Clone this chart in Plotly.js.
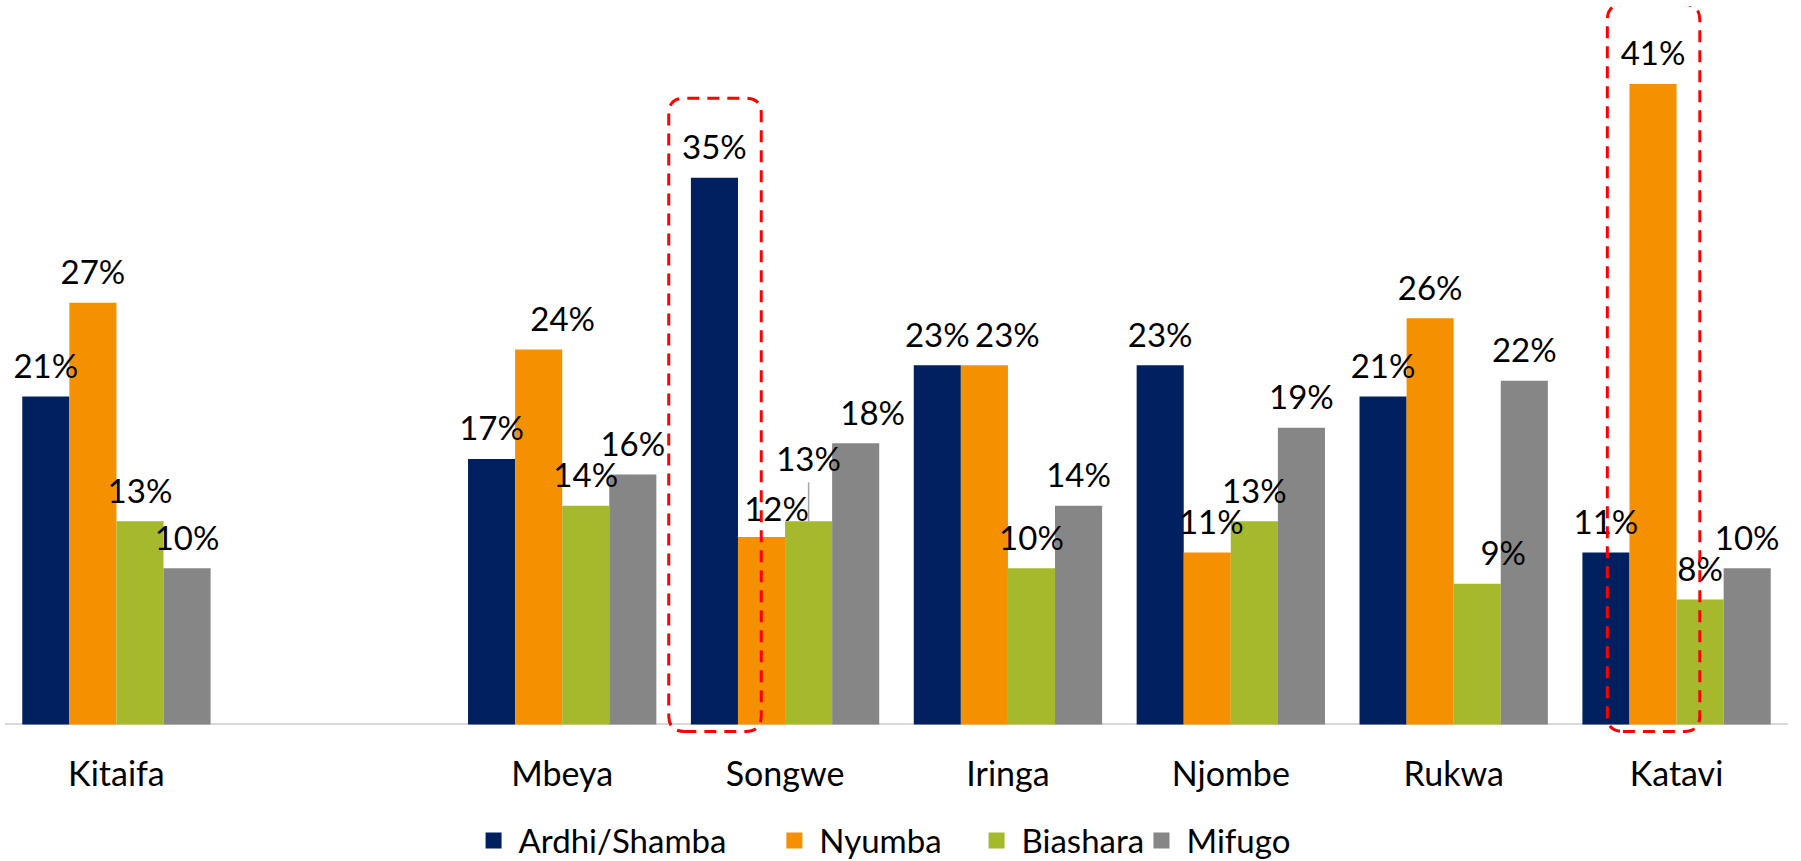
<!DOCTYPE html>
<html>
<head>
<meta charset="utf-8">
<script src="https://cdn.plot.ly/plotly-3.0.1.min.js"></script>
<style>
  html, body { margin: 0; padding: 0; background: #ffffff; }
  #chart { width: 1801px; height: 861px; }
</style>
</head>
<body>
<div id="chart"></div>
<script>
// Categories (the blank entry is the empty gap after Kitaifa)
const categories = ["Kitaifa", " ", "Mbeya", "Songwe", "Iringa", "Njombe", "Rukwa", "Katavi"];

// Series values (percent)
const ardhiShamba = [21, null, 17, 35, 23, 23, 21, 11];
const nyumba      = [27, null, 24, 12, 23, 11, 26, 41];
const biashara    = [13, null, 14, 13, 10, 13,  9,  8];
const mifugo      = [10, null, 16, 18, 14, 19, 22, 10];

const seriesNames  = ["Ardhi/Shamba", "Nyumba", "Biashara", "Mifugo"];
const seriesColors = ["#002060", "#F59100", "#A6B82C", "#868686"];

// Highlighted bars (red dashed boxes)
const highlights = [
  { category: "Songwe", series: 0 },
  { category: "Katavi", series: 1 }
];

// ---- styling / layout constants ----
const allSeries = [ardhiShamba, nyumba, biashara, mifugo];
const FONT = "Lato, 'Open Sans', sans-serif";
const AXIS_FS = 34, LABEL_FS = 33, LEGEND_FS = 33;
const bargap = 0.155;
const W = 1801, H = 861;
const M = { l: 5, r: 13, t: 6, b: 121 };
const Y_RANGE = [-1, 46];
const catPx = (W - M.l - M.r) / categories.length;
const pxPerUnit = (H - M.t - M.b) / (Y_RANGE[1] - Y_RANGE[0]);
// nudges (px) of a few data labels, as placed in the original (dy > 0 = up)
const labelNudgePx = {
  "Mbeya|1":  { dx: 24, dy: 0 },
  "Songwe|1": { dx: 15, dy: -3 },
  "Songwe|2": { dx: 0,  dy: 32, leader: true },
  "Songwe|3": { dx: 17, dy: 0 },
  "Iringa|1": { dx: 23, dy: 0 },
  "Njombe|1": { dx: 4,  dy: 0 },
  "Rukwa|2":  { dx: 26, dy: 0 }
};
// legend entry positions (paper fraction)
const legendX = [0.2600, 0.4287, 0.5421, 0.6346];

const barW = (1 - bargap) / allSeries.length;
const barCenter = (ci, si) => ci - (1 - bargap) / 2 + barW * (si + 0.5);

const barTraces = allSeries.map((vals, i) => ({
  type: "bar",
  name: seriesNames[i],
  x: categories,
  y: vals,
  marker: { color: seriesColors[i] },
  showlegend: false,
  hoverinfo: "skip"
}));

// data labels on an overlaid linear axis so they can sit slightly above the bars
const labelTraces = allSeries.map((vals, i) => {
  const xs = [], ys = [], ts = [];
  vals.forEach((v, ci) => {
    if (v === null) return;
    const n = labelNudgePx[categories[ci] + "|" + i] || { dx: 0, dy: 0 };
    xs.push(barCenter(ci, i) + n.dx / catPx);
    ys.push(v + n.dy / pxPerUnit);
    ts.push(v + "%");
  });
  return {
    type: "scatter",
    mode: "markers+text",
    xaxis: "x2",
    yaxis: "y",
    x: xs, y: ys, text: ts,
    textposition: "top center",
    textfont: { family: FONT, size: LABEL_FS, color: "#000000" },
    marker: { size: 15, color: "rgba(0,0,0,0)" },
    cliponaxis: false,
    showlegend: false,
    hoverinfo: "skip"
  };
});

// Legend-only entries (square swatches)
const legendNames = ["legend", "legend2", "legend3", "legend4"];
const legendTraces = seriesNames.map((n, i) => ({
  type: "scatter",
  mode: "markers",
  name: n,
  x: [categories[1]],
  y: [null],
  marker: { symbol: "square", size: 16, color: seriesColors[i] },
  showlegend: true,
  legend: legendNames[i],
  hoverinfo: "skip"
}));

// Rounded dashed boxes around highlighted bars
const shapes = highlights.map(h => {
  const ci = categories.indexOf(h.category);
  const xc = barCenter(ci, h.series);
  const v = allSeries[h.series][ci];
  const x0 = xc - 0.205, x1 = xc + 0.21;
  const y0 = -0.45, y1 = v + 5.1;
  const rx = 0.07, ry = 1.0;
  const p = `M ${x0 + rx},${y0} L ${x1 - rx},${y0} Q ${x1},${y0} ${x1},${y0 + ry} ` +
            `L ${x1},${y1 - ry} Q ${x1},${y1} ${x1 - rx},${y1} ` +
            `L ${x0 + rx},${y1} Q ${x0},${y1} ${x0},${y1 - ry} ` +
            `L ${x0},${y0 + ry} Q ${x0},${y0} ${x0 + rx},${y0} Z`;
  return {
    type: "path", xref: "x", yref: "y", path: p,
    line: { color: "#FF0000", width: 3, dash: "12px,8px" },
    fillcolor: "rgba(0,0,0,0)", layer: "above"
  };
});

// Leader lines for labels moved away from their bars
Object.keys(labelNudgePx).forEach(key => {
  const n = labelNudgePx[key];
  if (!n.leader) return;
  const [cat, si] = key.split("|");
  const ci = categories.indexOf(cat);
  const v = allSeries[+si][ci];
  const xc = barCenter(ci, +si);
  shapes.push({
    type: "line", xref: "x", yref: "y",
    x0: xc, x1: xc, y0: v, y1: v + (n.dy + 7) / pxPerUnit,
    line: { color: "#A6A6A6", width: 1.5 }, layer: "above"
  });
});

const legendBase = {
  orientation: "h",
  xanchor: "left",
  y: -0.137,
  yanchor: "middle",
  itemsizing: "trace",
  itemwidth: 40,
  bgcolor: "rgba(0,0,0,0)",
  font: { family: FONT, size: LEGEND_FS, color: "#000000" },
  itemclick: false,
  itemdoubleclick: false
};

const layout = {
  width: W,
  height: H,
  margin: { l: M.l, r: M.r, t: M.t, b: M.b, pad: 0, autoexpand: false },
  paper_bgcolor: "#ffffff",
  plot_bgcolor: "#ffffff",
  barmode: "group",
  bargap: bargap,
  bargroupgap: 0,
  font: { family: FONT, size: AXIS_FS, color: "#000000" },
  xaxis: {
    type: "category",
    categoryorder: "array",
    categoryarray: categories,
    range: [-0.5, categories.length - 0.5],
    showline: false,
    showgrid: false,
    zeroline: false,
    ticks: "",
    ticklabelstandoff: 11,
    tickfont: { family: FONT, size: AXIS_FS, color: "#000000" },
    fixedrange: true
  },
  xaxis2: {
    overlaying: "x",
    anchor: "y",
    range: [-0.5, categories.length - 0.5],
    visible: false,
    fixedrange: true
  },
  yaxis: {
    range: Y_RANGE,
    showgrid: false,
    showticklabels: false,
    ticks: "",
    zeroline: true,
    zerolinecolor: "#D9D9D9",
    zerolinewidth: 2,
    fixedrange: true
  },
  showlegend: true,
  legend:  Object.assign({}, legendBase, { x: legendX[0] }),
  legend2: Object.assign({}, legendBase, { x: legendX[1] }),
  legend3: Object.assign({}, legendBase, { x: legendX[2] }),
  legend4: Object.assign({}, legendBase, { x: legendX[3] }),
  shapes: shapes
};

Plotly.newPlot("chart", barTraces.concat(labelTraces, legendTraces), layout, { staticPlot: true, displayModeBar: false });
</script>
</body>
</html>
